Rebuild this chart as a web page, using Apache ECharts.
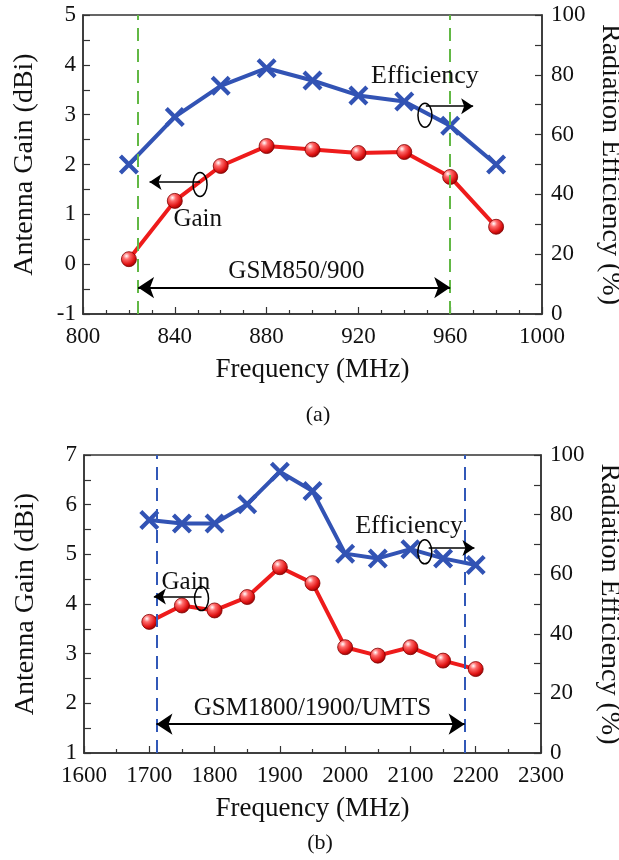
<!DOCTYPE html>
<html>
<head>
<meta charset="utf-8">
<script src="https://cdn.jsdelivr.net/npm/echarts@6/dist/echarts.min.js"></script>
<style>
  html, body { margin: 0; padding: 0; background: #fff; }
  #chart { width: 619px; height: 860px; }
</style>
</head>
<body>
<div id="chart"></div>
<script>
// panel (a): GSM850/900
const freqA = [820, 840, 860, 880, 900, 920, 940, 960, 980];
const gainA = [0.1, 1.27, 1.97, 2.37, 2.3, 2.23, 2.25, 1.75, 0.75];
const effA = [50, 65.9, 76.3, 82.2, 78.1, 73.1, 71.1, 63, 50];
const bandA = [824, 960];
const gainRangeA = [-1, 5];

// panel (b): GSM1800/1900/UMTS
const freqB = [1700, 1750, 1800, 1850, 1900, 1950, 2000, 2050, 2100, 2150, 2200];
const gainB = [3.64, 3.97, 3.87, 4.14, 4.74, 4.42, 3.13, 2.96, 3.13, 2.86, 2.69];
const effB = [78.2, 77, 77, 83.5, 94.4, 87.9, 66.9, 65.3, 68.4, 65.3, 63.1];
const bandB = [1711, 2183];
const gainRangeB = [1, 7];

// annotation anchors, in [frequency, gain] data units
const notesA = {
  band: { y: -0.47, label: 'GSM850/900', at: [893, -0.15] },
  eff: { label: 'Efficiency', at: [949, 3.77], loop: [949, 2.99], arrow: [[949.4, 3.17], [970, 3.17]] },
  gain: { label: 'Gain', at: [850, 0.9], loop: [851, 1.6], arrow: [[851, 1.65], [829, 1.65]] }
};
const notesB = {
  band: { y: 1.58, label: 'GSM1800/1900/UMTS', at: [1950, 1.9] },
  eff: { label: 'Efficiency', at: [2098, 5.56], loop: [2122, 5.05], arrow: [[2128, 5.13], [2198, 5.13]] },
  gain: { label: 'Gain', at: [1756, 4.43], loop: [1780, 4.11], arrow: [[1780, 4.15], [1707, 4.15]] }
};

const FONT = '"Liberation Serif", "DejaVu Serif", serif';
const INK = '#111';
const RED = '#ee1b1b';
const BLUE = '#3253b4';
const X_MARK = 'path://M3,0 L10,7 L17,0 L20,3 L13,10 L20,17 L17,20 L10,13 L3,20 L0,17 L7,10 L0,3 Z';

const sphere = new echarts.graphic.RadialGradient(0.35, 0.3, 0.75, [
  { offset: 0, color: '#ffffff' },
  { offset: 0.28, color: '#ff6b6b' },
  { offset: 0.7, color: '#e01414' },
  { offset: 1, color: '#8c0000' }
]);

const chart = echarts.init(document.getElementById('chart'));

const frame = { show: true, onZero: false, lineStyle: { color: '#333', width: 1.5 } };

function xAxisOf(grid, min, max, step, minor) {
  return {
    type: 'value', gridIndex: grid, min: min, max: max, interval: step,
    name: 'Frequency (MHz)', nameLocation: 'middle', nameGap: 42,
    nameTextStyle: { fontFamily: FONT, fontSize: 27, color: INK },
    axisLine: frame,
    axisTick: { inside: true, length: 7, lineStyle: { color: '#333', width: 1.2 } },
    minorTick: { show: true, splitNumber: minor, length: 4, lineStyle: { color: '#333', width: 1.2 } },
    axisLabel: { fontFamily: FONT, fontSize: 23, color: INK, margin: 11, formatter: (v) => String(v) },
    splitLine: { show: false }
  };
}

function yAxisOf(grid, side, range, step, name, gap) {
  return {
    type: 'value', gridIndex: grid, position: side, min: range[0], max: range[1], interval: step,
    name: name, nameLocation: 'middle', nameGap: gap, nameRotate: side === 'right' ? -90 : 90,
    nameTextStyle: { fontFamily: FONT, fontSize: 28, color: INK },
    axisLine: frame,
    axisTick: { inside: true, length: 7, lineStyle: { color: '#333', width: 1.2 } },
    minorTick: { show: true, splitNumber: 2, length: 7, lineStyle: { color: '#333', width: 1.2 } },
    axisLabel: { fontFamily: FONT, fontSize: 23, color: INK, margin: side === 'right' ? 9 : 7, formatter: (v) => String(v) },
    splitLine: { show: false }
  };
}

function bandLines(band, range, y, color) {
  const dash = { color: color, type: [13, 8], width: 2 };
  return {
    silent: true, animation: false,
    data: [
      [{ coord: [band[0], range[0]], symbol: 'none', lineStyle: dash }, { coord: [band[0], range[1]], symbol: 'none' }],
      [{ coord: [band[1], range[0]], symbol: 'none', lineStyle: dash }, { coord: [band[1], range[1]], symbol: 'none' }],
      [{ coord: [band[0], y], symbol: 'arrow', symbolSize: 16, lineStyle: { color: '#000', type: 'solid', width: 2 } },
       { coord: [band[1], y], symbol: 'arrow', symbolSize: 16 }]
    ],
    label: { show: false }
  };
}

function pointerLines(notes) {
  return {
    silent: true, animation: false,
    symbol: ['none', 'arrow'], symbolSize: 12,
    lineStyle: { color: '#000', type: 'solid', width: 1.5 },
    label: { show: false },
    data: [
      [{ coord: notes.eff.arrow[0] }, { coord: notes.eff.arrow[1] }],
      [{ coord: notes.gain.arrow[0] }, { coord: notes.gain.arrow[1] }]
    ]
  };
}

function pairs(xs, ys) {
  return xs.map((x, i) => [x, ys[i]]);
}

chart.setOption({
  animation: false,
  backgroundColor: '#fff',
  grid: [
    { left: 83, right: 77, top: 15, bottom: 546, show: true, borderColor: '#333', borderWidth: 1.5, outerBoundsMode: 'none' },
    { left: 84, right: 78, top: 455, bottom: 107, show: true, borderColor: '#333', borderWidth: 1.5, outerBoundsMode: 'none' }
  ],
  xAxis: [
    xAxisOf(0, 800, 1000, 40, 4),
    xAxisOf(1, 1600, 2300, 100, 2)
  ],
  yAxis: [
    yAxisOf(0, 'left', gainRangeA, 1, 'Antenna Gain (dBi)', 44),
    yAxisOf(0, 'right', [0, 100], 20, 'Radiation Efficiency (%)', 45),
    yAxisOf(1, 'left', gainRangeB, 1, 'Antenna Gain (dBi)', 44),
    yAxisOf(1, 'right', [0, 100], 20, 'Radiation Efficiency (%)', 45)
  ],
  series: [
    {
      name: 'Gain (a)', type: 'line', xAxisIndex: 0, yAxisIndex: 0,
      data: pairs(freqA, gainA), z: 3,
      lineStyle: { color: RED, width: 4 },
      symbol: 'circle', symbolSize: 15,
      itemStyle: { color: sphere, borderColor: '#800000', borderWidth: 0.8 },
      markLine: bandLines(bandA, gainRangeA, notesA.band.y, '#62b845')
    },
    {
      name: 'Efficiency (a)', type: 'line', xAxisIndex: 0, yAxisIndex: 1,
      data: pairs(freqA, effA), z: 3,
      lineStyle: { color: BLUE, width: 4 },
      symbol: X_MARK, symbolSize: 20,
      itemStyle: { color: BLUE }
    },
    {
      name: 'Pointers (a)', type: 'line', xAxisIndex: 0, yAxisIndex: 0, data: [],
      markLine: pointerLines(notesA)
    },
    {
      name: 'Gain (b)', type: 'line', xAxisIndex: 1, yAxisIndex: 2,
      data: pairs(freqB, gainB), z: 3,
      lineStyle: { color: RED, width: 4 },
      symbol: 'circle', symbolSize: 15,
      itemStyle: { color: sphere, borderColor: '#800000', borderWidth: 0.8 },
      markLine: bandLines(bandB, gainRangeB, notesB.band.y, '#3158b8')
    },
    {
      name: 'Efficiency (b)', type: 'line', xAxisIndex: 1, yAxisIndex: 3,
      data: pairs(freqB, effB), z: 3,
      lineStyle: { color: BLUE, width: 4 },
      symbol: X_MARK, symbolSize: 20,
      itemStyle: { color: BLUE }
    },
    {
      name: 'Pointers (b)', type: 'line', xAxisIndex: 1, yAxisIndex: 2, data: [],
      markLine: pointerLines(notesB)
    }
  ]
});

// labels and loops, placed through the axes
function notesGraphic(notes, xi, yi) {
  const px = (p) => chart.convertToPixel({ xAxisIndex: xi, yAxisIndex: yi }, p);
  const text = (p, s, size) => {
    const q = px(p);
    return { type: 'text', x: q[0], y: q[1], z: 10,
      style: { text: s, font: size + 'px ' + FONT, fill: INK, align: 'center', verticalAlign: 'middle' } };
  };
  const loop = (p) => {
    const q = px(p);
    return { type: 'ellipse', z: 10, shape: { cx: q[0], cy: q[1], rx: 7, ry: 12 },
      style: { fill: 'none', stroke: '#000', lineWidth: 1.5 } };
  };
  return [
    text(notes.band.at, notes.band.label, 25),
    text(notes.eff.at, notes.eff.label, 26),
    text(notes.gain.at, notes.gain.label, 25),
    loop(notes.eff.loop),
    loop(notes.gain.loop)
  ];
}

const captions = [
  { type: 'text', x: 318, y: 415, style: { text: '(a)', font: '22px ' + FONT, fill: INK, align: 'center', verticalAlign: 'middle' } },
  { type: 'text', x: 320, y: 843, style: { text: '(b)', font: '22px ' + FONT, fill: INK, align: 'center', verticalAlign: 'middle' } }
];

chart.setOption({
  graphic: notesGraphic(notesA, 0, 0).concat(notesGraphic(notesB, 1, 2), captions)
});
</script>
</body>
</html>
